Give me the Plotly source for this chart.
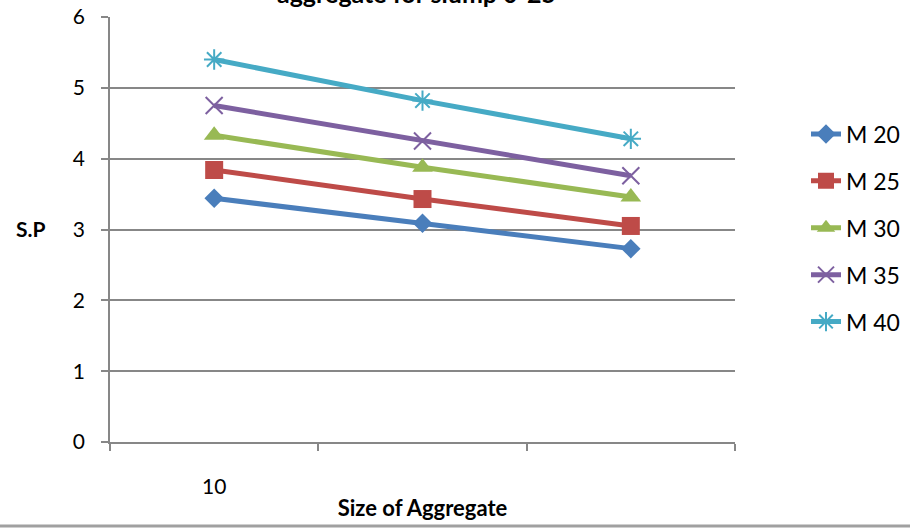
import plotly.graph_objects as go

# Aggregate size categories (only the first carries a printed label)
categories = ["10", "20", "40"]
tick_labels = ["10", "", ""]

# Split tensile strength (S.P) per concrete grade
m20 = [3.44, 3.09, 2.73]
m25 = [3.84, 3.43, 3.05]
m30 = [4.33, 3.88, 3.46]
m35 = [4.75, 4.25, 3.76]
m40 = [5.40, 4.82, 4.28]

series_names = ["M 20", "M 25", "M 30", "M 35", "M 40"]
series_values = [m20, m25, m30, m35, m40]
colors = ["#4A7EBB", "#BE4B48", "#98B954", "#7D60A0", "#46AAC5"]
symbols = ["diamond", "square", "triangle-up", "x-thin-open", "asterisk-open"]
sizes = [15, 18, 18, 17, 17]

FONT = "Lato"
GRID = "#878787"

W, H = 910, 529
L, R, T, B = 110, 175, 17, 87
plot_w = W - L - R
plot_h = H - T - B

fig = go.Figure()
for name, vals, col, sym, sz in zip(series_names, series_values, colors, symbols, sizes):
    open_sym = sym.endswith("open")
    fig.add_trace(go.Scatter(
        x=categories, y=vals, name=name, legendgroup=name,
        mode="lines+markers",
        line=dict(color=col, width=5),
        marker=dict(symbol=sym, size=sz, color=col,
                    line=dict(color=col, width=2 if open_sym else 0)),
    ))

fig.update_layout(
    width=W, height=H,
    margin=dict(l=L, r=R, t=T, b=B, autoexpand=False),
    paper_bgcolor="white", plot_bgcolor="white",
    font=dict(family=FONT, size=21, color="#000000"),
    showlegend=True,
    legend=dict(
        x=(806 - L) / plot_w, xanchor="left", xref="paper",
        y=(442 - 228) / plot_h, yanchor="middle",
        font=dict(family=FONT, size=23),
        tracegroupgap=14,
        bgcolor="rgba(0,0,0,0)",
    ),
    xaxis=dict(
        type="category",
        range=[-0.5, len(categories) - 0.5],
        tickvals=categories, ticktext=tick_labels,
        tickson="boundaries",
        automargin=False,
        showgrid=False, zeroline=False,
        showline=True, linecolor=GRID, linewidth=1.5,
        ticks="outside", ticklen=7, tickcolor=GRID, tickwidth=1.5,
        ticklabelstandoff=25,
        tickfont=dict(family=FONT, size=21),
        title=dict(text="<b>Size of Aggregate</b>", font=dict(family=FONT, size=22), standoff=4),
    ),
    yaxis=dict(
        range=[0, 6], dtick=1,
        automargin=False,
        showgrid=True, gridcolor=GRID, gridwidth=1.5,
        zeroline=False,
        showline=True, linecolor=GRID, linewidth=1.5,
        ticks="outside", ticklen=7, tickcolor=GRID, tickwidth=1.5,
        tickfont=dict(family=FONT, size=21),
        ticklabelstandoff=12,
    ),
    annotations=[
        dict(text="<b>S.P</b>", xref="paper", yref="paper", x=(48 - L) / plot_w,
             y=(442 - 229) / plot_h,
             xanchor="right", yanchor="middle", showarrow=False,
             font=dict(family=FONT, size=21)),
        dict(text="<b>aggregate for slump 0-25</b>", xref="paper", yref="paper",
             x=(416 - L) / plot_w, y=1 + (T + 7) / plot_h,
             xanchor="center", yanchor="middle", showarrow=False,
             font=dict(family=FONT, size=25)),
    ],
    shapes=[
        # thin border running along the bottom of the chart
        dict(type="line", xref="paper", yref="paper",
             x0=-L / plot_w, x1=(W - L) / plot_w,
             y0=-(526 - 442) / plot_h, y1=-(526 - 442) / plot_h,
             line=dict(color="#A0A0A0", width=3)),
    ],
)

fig.write_html("out.html")
